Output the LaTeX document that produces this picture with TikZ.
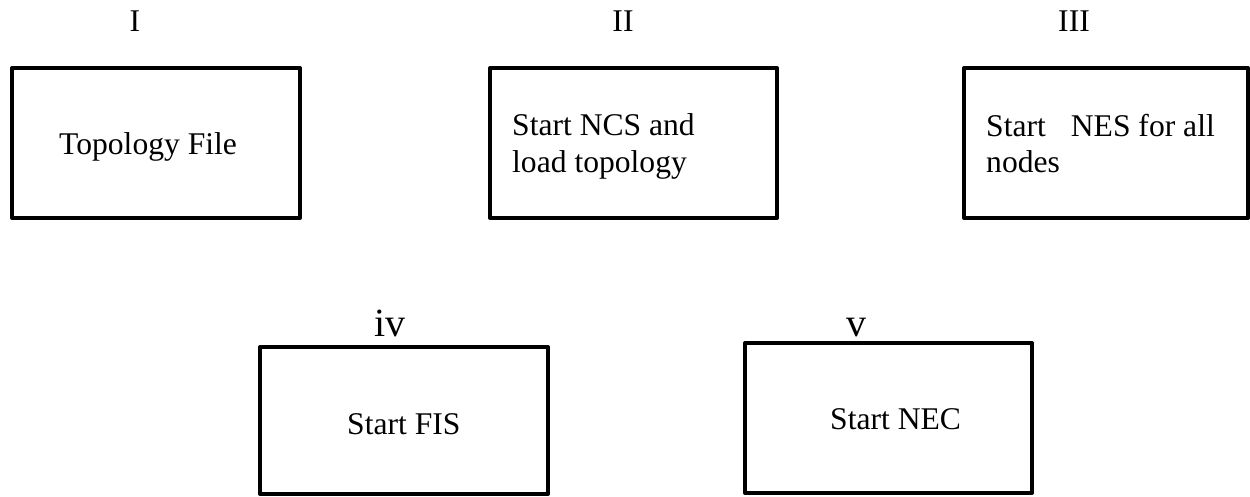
\documentclass[tikz,border=0pt]{standalone}
\usepackage{fontspec}
\setmainfont{Liberation Serif}
\begin{document}
\begin{tikzpicture}[x=1pt,y=-1pt,
  boxline/.style={draw=black,line width=4pt,line join=round},
  txt/.style={inner sep=0pt,anchor=base west,font=\fontsize{31.6}{38}\selectfont},
  numlbl/.style={inner sep=0pt,anchor=base,font=\fontsize{31.6}{38}\selectfont},
  smlbl/.style={inner sep=0pt,anchor=base,font=\fontsize{40}{48}\selectfont}]
\useasboundingbox (0,0) rectangle (1250,497);
% boxes
\draw[boxline] (12,68) rectangle (300,218);
\draw[boxline] (490,68) rectangle (777,218);
\draw[boxline] (964,68) rectangle (1248,218);
\draw[boxline] (260,347) rectangle (548,494);
\draw[boxline] (745,343) rectangle (1032,493);
% labels
\node[numlbl] (lI) at (135,32) {I};
\node[numlbl] (lII) at (623,32) {II};
\node[numlbl] (lIII) at (1074,32) {III};
\node[smlbl] (liv) at (390,336) {iv};
\node[smlbl] (lv) at (856,336) {v};
% texts
\node[txt] (t1) at (59,155) {Topology File};
\node[txt] (t2a) at (512,136) {Start NCS and};
\node[txt] (t2b) at (512,173) {load topology};
\node[txt] (t3a) at (986,137) {Start\hspace{25pt}NES for all};
\node[txt] (t3b) at (986,173) {nodes};
\node[txt] (t4) at (347,434) {Start FIS};
\node[txt] (t5) at (830,429) {Start NEC};
\end{tikzpicture}
\end{document}
